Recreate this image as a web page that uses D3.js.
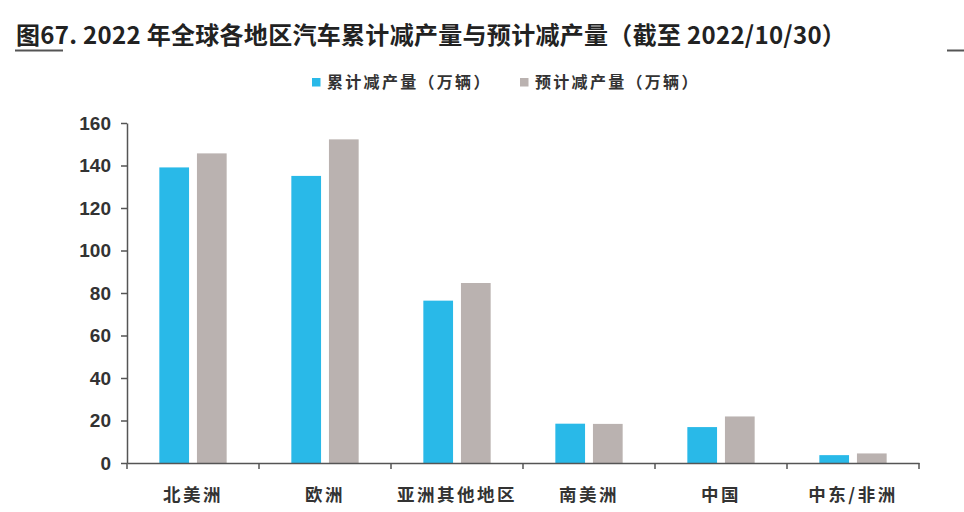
<!DOCTYPE html>
<html>
<head>
<meta charset="utf-8">
<script src="https://cdn.jsdelivr.net/npm/d3@7"></script>
<style>
  body { margin: 0; background: #fff; }
  svg { display: block; }
  .cn { font-family: "Noto Sans CJK SC", "Liberation Sans", sans-serif; }
</style>
</head>
<body>
<div id="chart"></div>
<script>
// Data
var regions = ["北美洲", "欧洲", "亚洲其他地区", "南美洲", "中国", "中东/非洲"];
var seriesNames = ["累计减产量（万辆）", "预计减产量（万辆）"];
var cutSoFar = [139.1, 135.1, 76.4, 18.5, 16.9, 3.7];
var cutExpected = [145.7, 152.3, 84.7, 18.4, 21.9, 4.5];
var yTicks = [0, 20, 40, 60, 80, 100, 120, 140, 160];

var colors = ["#29b9e8", "#bab2b0"];
var axisColor = "#555";

var width = 964, height = 512;
var margin = { top: 123, right: 45, bottom: 49, left: 127 };
var innerW = width - margin.left - margin.right,
    innerH = height - margin.top - margin.bottom;

var svg = d3.select("#chart").append("svg")
    .attr("width", width)
    .attr("height", height);

// Title with the report style underline
svg.append("text")
    .attr("class", "cn")
    .attr("x", 16)
    .attr("y", 44)
    .attr("font-size", 24)
    .attr("font-weight", "bold")
    .attr("letter-spacing", 0.3)
    .attr("fill", "#222")
    .text("图67. 2022 年全球各地区汽车累计减产量与预计减产量（截至 2022/10/30）");

svg.append("line")
    .attr("x1", 15).attr("x2", 63)
    .attr("y1", 50.5).attr("y2", 50.5)
    .attr("stroke", axisColor).attr("stroke-width", 2);
svg.append("line")
    .attr("x1", 947).attr("x2", 964)
    .attr("y1", 50.5).attr("y2", 50.5)
    .attr("stroke", axisColor).attr("stroke-width", 2);

// Legend
var legendX = [312, 520];
var legend = svg.append("g").attr("class", "legend");
seriesNames.forEach(function(name, i) {
    legend.append("rect")
        .attr("x", legendX[i]).attr("y", 78)
        .attr("width", 8.5).attr("height", 8.5)
        .attr("fill", colors[i]);
    legend.append("text")
        .attr("class", "cn")
        .attr("x", legendX[i] + 15)
        .attr("y", 88)
        .attr("font-size", 16)
        .attr("font-weight", "bold")
        .attr("letter-spacing", 2.3)
        .attr("fill", "#333")
        .text(name);
});

var g = svg.append("g")
    .attr("transform", "translate(" + margin.left + "," + margin.top + ")");

// Scales
var x0 = d3.scaleBand()
    .domain(regions)
    .range([0, innerW])
    .paddingInner(0.49)
    .paddingOuter(0.245);

var x1 = d3.scaleBand()
    .domain([0, 1])
    .range([0, x0.bandwidth()])
    .paddingInner(0.21);

var y = d3.scaleLinear()
    .domain([0, 160])
    .range([innerH, 0]);

// Bars
var rows = regions.map(function(r, i) {
    return { region: r, values: [cutSoFar[i], cutExpected[i]] };
});

g.selectAll(".group")
    .data(rows)
    .enter().append("g")
    .attr("class", "group")
    .attr("transform", function(d) { return "translate(" + x0(d.region) + ",0)"; })
    .selectAll("rect")
    .data(function(d) { return d.values.map(function(v, k) { return { k: k, v: v }; }); })
    .enter().append("rect")
    .attr("x", function(d) { return x1(d.k); })
    .attr("y", function(d) { return y(d.v); })
    .attr("width", x1.bandwidth())
    .attr("height", function(d) { return innerH - y(d.v); })
    .attr("fill", function(d) { return colors[d.k]; });

// Y axis
var yAxis = g.append("g")
    .call(d3.axisLeft(y).tickValues(yTicks).tickSize(6).tickSizeOuter(0).tickPadding(10));
yAxis.select(".domain").attr("stroke", axisColor).attr("stroke-width", 1.5);
yAxis.selectAll(".tick line").attr("stroke", axisColor).attr("stroke-width", 1.5);
yAxis.selectAll(".tick text")
    .attr("font-family", "Liberation Sans, Arial, sans-serif")
    .attr("font-size", 19)
    .attr("font-weight", "bold")
    .attr("fill", "#333");

// X axis: labels at band centres, ticks at band boundaries
var xAxis = g.append("g")
    .attr("transform", "translate(0," + innerH + ")")
    .call(d3.axisBottom(x0).tickSize(0).tickSizeOuter(0).tickPadding(26));
xAxis.select(".domain").attr("stroke", axisColor).attr("stroke-width", 1.5);
xAxis.selectAll(".tick text")
    .attr("font-family", "Noto Sans CJK SC, sans-serif")
    .attr("font-size", 17.5)
    .attr("font-weight", "bold")
    .attr("letter-spacing", 2.5)
    .attr("fill", "#333");

var step = x0.step();
var bounds = d3.range(regions.length + 1).map(function(i) {
    return x0(regions[0]) - step * x0.paddingOuter() + i * step;
});
xAxis.selectAll(".bound")
    .data(bounds)
    .enter().append("line")
    .attr("class", "bound")
    .attr("x1", function(d) { return d; })
    .attr("x2", function(d) { return d; })
    .attr("y1", 0).attr("y2", 6)
    .attr("stroke", axisColor).attr("stroke-width", 1.5);
</script>
</body>
</html>
